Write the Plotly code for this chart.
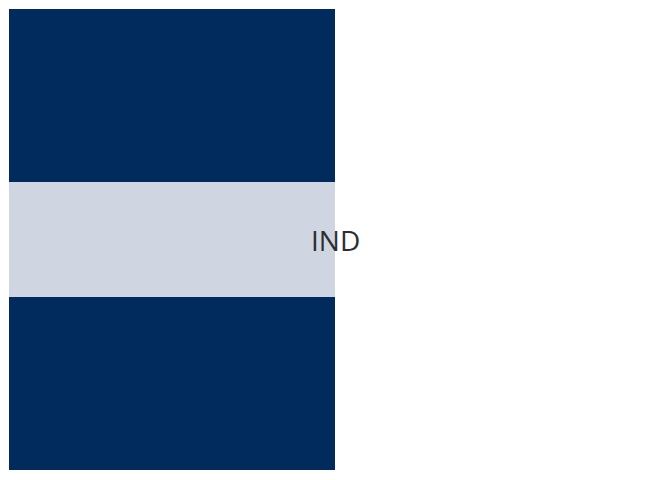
import plotly.graph_objects as go

segments = ["bottom", "middle", "top"]
values = [173, 115, 173]
colors = ["#002b5c", "#cfd6e1", "#002b5c"]
label = "IND"

fig = go.Figure()
for name, v, c in zip(segments, values, colors):
    fig.add_trace(go.Bar(x=[0], y=[v], name=name, marker_color=c, width=1,
                         marker_line_width=0, hoverinfo="skip"))

fig.add_annotation(x=0.5, y=values[0] + values[1] / 2, text=label, showarrow=False,
                   font=dict(size=28, color="#2b2f33", family="Open Sans"))

fig.update_layout(
    barmode="stack", width=672, height=480, showlegend=False,
    margin=dict(l=1, r=19, t=1, b=18), bargap=0,
    plot_bgcolor="white", paper_bgcolor="white",
    xaxis=dict(range=[-0.5, 1.5], visible=False),
    yaxis=dict(range=[0, sum(values)], visible=False),
)
fig.write_html("out.html")
